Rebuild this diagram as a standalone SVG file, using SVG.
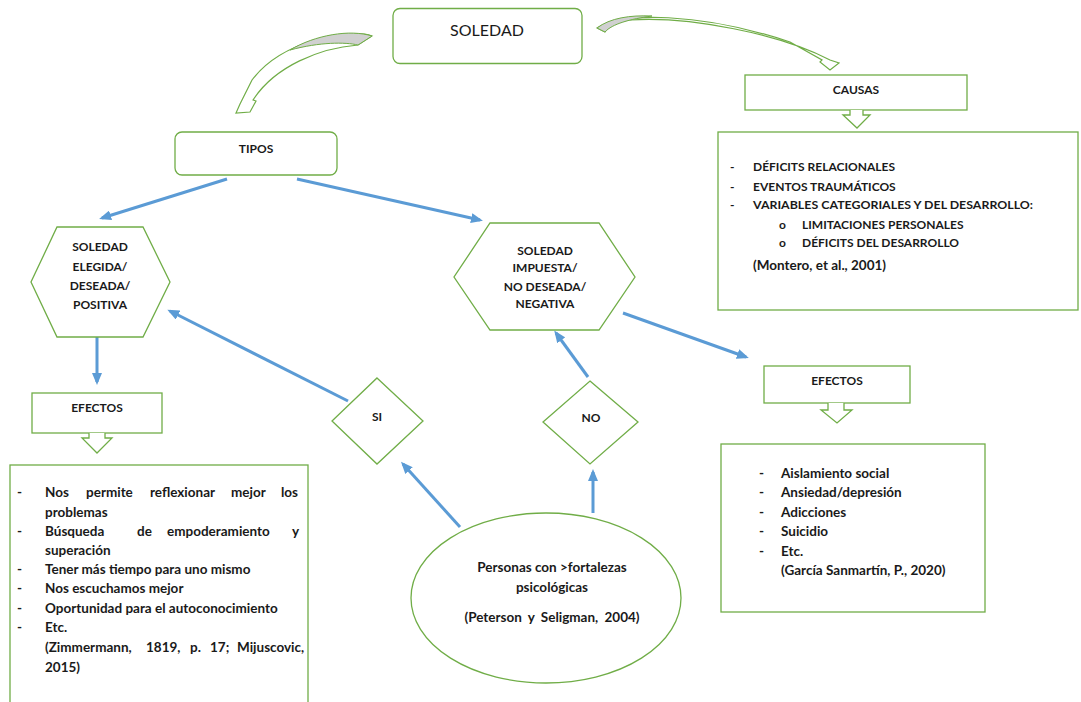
<svg xmlns="http://www.w3.org/2000/svg" width="1081" height="702" viewBox="0 0 1081 702">
<style>
.g{fill:#fff;stroke:#70ad47;stroke-width:1.3}
.t{font-family:Lato,"Liberation Sans",sans-serif;font-weight:bold;font-size:12px;fill:#1a1a1a}
.m{font-size:13.5px}
.c{text-anchor:middle}
.a{stroke:#5b9bd5;stroke-width:3;fill:none;marker-end:url(#ah)}
.cv{fill:#fff;stroke:#70ad47;stroke-width:1.2}
.gr{fill:#d0d0d0;stroke:#70ad47;stroke-width:1}
</style>
<defs>
<marker id="ah" markerWidth="12" markerHeight="10" refX="9" refY="5" orient="auto" markerUnits="userSpaceOnUse">
<path d="M0,0 L12,5 L0,10 Z" fill="#5b9bd5"/>
</marker>
</defs>
<rect width="1081" height="702" fill="#fff"/>

<g id="connectors">
<path class="cv" d="M372,36 C350,28 282,40 252,80 L240,104 L236,113 L250,112 L256,101 L253,100 C275,66 320,48 358,45 Z"/>
<path class="gr" d="M372,36 C350,29 315,35 290,50 C320,42 345,42 358,45 Z"/>
<path class="cv" d="M597,28 C620,12 700,12 790,42 L822,60 L820,62 L830,70 L839,63 L830,60 C780,34 690,16 630,20 C615,22 608,27 605,32 Z"/>
<path class="gr" d="M597,28 C610,18 630,15 652,16 C630,19 612,24 605,32 Z"/>
<line class="a" x1="227" y1="179" x2="102" y2="218"/>
<line class="a" x1="297" y1="179" x2="480" y2="220"/>
<line class="a" x1="97" y1="337" x2="97" y2="382"/>
<line class="a" x1="623" y1="313" x2="746" y2="357"/>
<line class="a" x1="588" y1="377" x2="556" y2="333"/>
<line class="a" x1="348" y1="401" x2="170" y2="311"/>
<line class="a" x1="460" y1="527" x2="403" y2="464"/>
<line class="a" x1="593" y1="513" x2="593" y2="472"/>
</g>

<g id="soledad">
<rect class="g" x="393" y="8.5" width="189" height="55" rx="7"/>
<text x="487" y="36" class="c" style="font-family:Lato,'Liberation Sans',sans-serif;font-size:16px;fill:#1a1a1a">SOLEDAD</text>
</g>

<g id="causas">
<rect class="g" x="745" y="75" width="222" height="35"/>
<text x="856" y="94" class="t c">CAUSAS</text>
<path class="g" d="M850,110 L850,115 L843,115 L857,128 L870,115 L863,115 L863,110"/>
</g>

<g id="causas-list">
<rect class="g" x="718" y="132" width="360" height="178"/>
<text class="t" x="730" y="171">-</text><text class="t" x="753" y="171">DÉFICITS RELACIONALES</text>
<text class="t" x="730" y="191">-</text><text class="t" x="753" y="191">EVENTOS TRAUMÁTICOS</text>
<text class="t" x="730" y="209">-</text><text class="t" x="753" y="209" textLength="280" lengthAdjust="spacingAndGlyphs">VARIABLES CATEGORIALES Y DEL DESARROLLO:</text>
<text class="t" x="779" y="229">o</text><text class="t" x="802" y="229">LIMITACIONES PERSONALES</text>
<text class="t" x="779" y="247">o</text><text class="t" x="802" y="247">DÉFICITS DEL DESARROLLO</text>
<text class="t m" x="753" y="270">(Montero, et al., 2001)</text>
</g>

<g id="tipos">
<rect class="g" x="175" y="132" width="162" height="43" rx="7"/>
<text x="256" y="153" class="t c">TIPOS</text>
</g>

<g id="soledad-elegida">
<polygon class="g" points="57,227 143,227 170,282 143,337 57,337 31,282"/>
<text x="100" y="251" class="t c">SOLEDAD</text>
<text x="100" y="271" class="t c">ELEGIDA/</text>
<text x="100" y="290" class="t c">DESEADA/</text>
<text x="100" y="309" class="t c">POSITIVA</text>
</g>

<g id="soledad-impuesta">
<polygon class="g" points="490,223 599,223 635,277 599,330 490,330 454,277"/>
<text x="545" y="255" class="t c">SOLEDAD</text>
<text x="545" y="272" class="t c">IMPUESTA/</text>
<text x="545" y="291" class="t c">NO DESEADA/</text>
<text x="545" y="308" class="t c">NEGATIVA</text>
</g>

<g id="efectos-izq">
<rect class="g" x="32" y="393" width="130" height="40"/>
<text x="97" y="412" class="t c">EFECTOS</text>
<path class="g" d="M89,433 L89,438 L82,438 L97,453 L112,438 L105,438 L105,433"/>
</g>

<g id="efectos-izq-list">
<rect class="g" x="10" y="465" width="298" height="245"/>
<text class="t m" x="17" y="497">-</text>
<text class="t m" y="497"><tspan x="45">Nos</tspan><tspan x="86">permite</tspan><tspan x="150">reflexionar</tspan><tspan x="231">mejor</tspan><tspan x="281">los</tspan></text>
<text class="t m" x="45" y="517">problemas</text>
<text class="t m" x="17" y="536">-</text>
<text class="t m" y="536"><tspan x="45">Búsqueda</tspan><tspan x="137">de</tspan><tspan x="167">empoderamiento</tspan><tspan x="292">y</tspan></text>
<text class="t m" x="45" y="555">superación</text>
<text class="t m" x="17" y="574">-</text><text class="t m" x="45" y="574">Tener más tiempo para uno mismo</text>
<text class="t m" x="17" y="593">-</text><text class="t m" x="45" y="593">Nos escuchamos mejor</text>
<text class="t m" x="17" y="613">-</text><text class="t m" x="45" y="613">Oportunidad para el autoconocimiento</text>
<text class="t m" x="17" y="632">-</text><text class="t m" x="45" y="632">Etc.</text>
<text class="t m" y="652"><tspan x="45">(Zimmermann,</tspan><tspan x="146">1819,</tspan><tspan x="190">p.</tspan><tspan x="210">17;</tspan><tspan x="237">Mijuscovic,</tspan></text>
<text class="t m" x="45" y="672">2015)</text>
</g>

<g id="efectos-der">
<rect class="g" x="764" y="366" width="146" height="37"/>
<text x="837" y="385" class="t c">EFECTOS</text>
<path class="g" d="M828,403 L828,410 L821,410 L837,423 L852,410 L844,410 L844,403"/>
</g>

<g id="efectos-der-list">
<rect class="g" x="721" y="444" width="264" height="168"/>
<text class="t m" x="759" y="478">-</text><text class="t m" x="781" y="478">Aislamiento social</text>
<text class="t m" x="759" y="497">-</text><text class="t m" x="781" y="497">Ansiedad/depresión</text>
<text class="t m" x="759" y="517">-</text><text class="t m" x="781" y="517">Adicciones</text>
<text class="t m" x="759" y="536">-</text><text class="t m" x="781" y="536">Suicidio</text>
<text class="t m" x="759" y="556">-</text><text class="t m" x="781" y="556">Etc.</text>
<text class="t m" x="781" y="575">(García Sanmartín, P., 2020)</text>
</g>

<g id="si">
<polygon class="g" points="377,378 423,421 377,464 332,421"/>
<text x="377" y="421" class="t c">SI</text>
</g>

<g id="no">
<polygon class="g" points="590,381 638,422 590,464 543,422"/>
<text x="591" y="422" class="t c">NO</text>
</g>

<g id="personas">
<ellipse class="g" cx="546" cy="598" rx="135" ry="85"/>
<text x="552" y="572" class="t m c">Personas con &gt;fortalezas</text>
<text x="552" y="592" class="t m c">psicológicas</text>
<text x="552" y="622" class="t m c" word-spacing="3">(Peterson y Seligman, 2004)</text>
</g>
</svg>
